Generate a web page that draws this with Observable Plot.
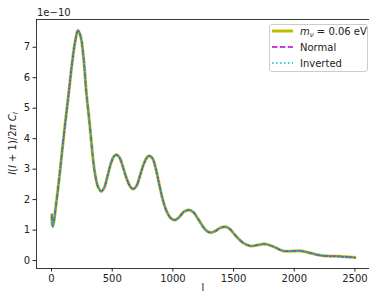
<!DOCTYPE html>
<html>
<head>
<meta charset="utf-8">
<script src="https://cdn.jsdelivr.net/npm/d3@7"></script>
<script src="https://cdn.jsdelivr.net/npm/@observablehq/plot@0.6"></script>
<style>
  html, body { margin: 0; padding: 0; background: #fff; overflow: hidden; }
  #chart svg { display: block; }
</style>
</head>
<body>
<div id="chart"></div>
<script>
// multipole l
const ell = [2, 5, 10, 20, 33, 50, 70, 90, 115, 143, 170, 195, 217, 240, 265, 286, 316, 340, 360, 385, 410, 435, 460, 490, 515, 536, 560, 590, 620, 650, 673, 700, 730, 760, 790, 810, 835, 860, 890, 920, 950, 980, 1014, 1050, 1090, 1132, 1170, 1210, 1250, 1280, 1310, 1350, 1390, 1434, 1470, 1510, 1550, 1590, 1640, 1690, 1750, 1800, 1850, 1890, 1915, 1970, 2038, 2090, 2150, 2200, 2244, 2300, 2360, 2420, 2470, 2500];
// l(l+1)/2pi C_l in units of 1e-10
const clMnu = [1.50, 1.25, 1.12, 1.30, 1.70, 2.25, 2.95, 3.70, 4.60, 5.55, 6.50, 7.20, 7.55, 7.35, 6.60, 5.55, 4.40, 3.40, 2.80, 2.40, 2.27, 2.40, 2.75, 3.20, 3.42, 3.47, 3.38, 3.05, 2.68, 2.42, 2.35, 2.45, 2.80, 3.17, 3.40, 3.43, 3.33, 3.00, 2.45, 1.95, 1.60, 1.40, 1.33, 1.42, 1.60, 1.66, 1.58, 1.35, 1.10, 0.97, 0.92, 0.97, 1.07, 1.11, 1.03, 0.85, 0.68, 0.55, 0.48, 0.50, 0.54, 0.50, 0.42, 0.34, 0.31, 0.31, 0.32, 0.29, 0.23, 0.18, 0.155, 0.145, 0.14, 0.125, 0.11, 0.10];
const clNormal = [1.50, 1.25, 1.12, 1.30, 1.70, 2.25, 2.95, 3.70, 4.60, 5.55, 6.50, 7.20, 7.55, 7.35, 6.60, 5.55, 4.40, 3.40, 2.80, 2.40, 2.27, 2.40, 2.75, 3.20, 3.42, 3.47, 3.38, 3.05, 2.68, 2.42, 2.35, 2.45, 2.80, 3.17, 3.40, 3.43, 3.33, 3.00, 2.45, 1.95, 1.60, 1.40, 1.33, 1.42, 1.60, 1.66, 1.58, 1.35, 1.10, 0.97, 0.92, 0.97, 1.07, 1.11, 1.03, 0.85, 0.68, 0.55, 0.48, 0.50, 0.54, 0.50, 0.42, 0.34, 0.31, 0.31, 0.32, 0.29, 0.23, 0.18, 0.155, 0.145, 0.14, 0.125, 0.11, 0.10];
const clInverted = [1.50, 1.25, 1.12, 1.30, 1.70, 2.25, 2.95, 3.70, 4.60, 5.55, 6.50, 7.20, 7.55, 7.35, 6.60, 5.55, 4.40, 3.40, 2.80, 2.40, 2.27, 2.40, 2.75, 3.20, 3.42, 3.47, 3.38, 3.05, 2.68, 2.42, 2.35, 2.45, 2.80, 3.17, 3.40, 3.43, 3.33, 3.00, 2.45, 1.95, 1.60, 1.40, 1.33, 1.42, 1.60, 1.66, 1.58, 1.35, 1.10, 0.97, 0.92, 0.97, 1.07, 1.11, 1.03, 0.85, 0.68, 0.55, 0.48, 0.50, 0.54, 0.50, 0.42, 0.34, 0.31, 0.31, 0.32, 0.29, 0.23, 0.18, 0.155, 0.145, 0.14, 0.125, 0.11, 0.10];

const xTicks = [0, 500, 1000, 1500, 2000, 2500];
const yTicks = [0, 1, 2, 3, 4, 5, 6, 7];
const xDomain = [-124, 2620];
const yDomain = [-0.26, 7.91];

const seriesLabels = ["Normal", "Inverted"];
const seriesColors = ["#bfbf00", "#bf00bf", "#00bfbf"];

const rowsMnu = ell.map((l, i) => ({l, v: clMnu[i]}));
const rowsNormal = ell.map((l, i) => ({l, v: clNormal[i]}));
const rowsInverted = ell.map((l, i) => ({l, v: clInverted[i]}));

const W = 369, H = 294;
const mL = 36, mR = 0, mT = 19, mB = 26;

const chart = Plot.plot({
  width: W,
  height: H,
  marginLeft: mL,
  marginRight: mR,
  marginTop: mT,
  marginBottom: mB,
  style: {fontFamily: "DejaVu Sans", fontSize: "10px", color: "#222", background: "#fff"},
  x: {domain: xDomain, ticks: xTicks, tickSize: 3.5, tickPadding: 3, label: null, tickFormat: d => String(d)},
  y: {domain: yDomain, ticks: yTicks, tickSize: 3.5, tickPadding: 3, label: null, tickFormat: d => String(d)},
  marks: [
    Plot.ruleX([xDomain[0]], {stroke: "#222", strokeWidth: 0.9}),
    Plot.ruleY(yDomain, {stroke: "#222", strokeWidth: 0.9}),
    Plot.line(rowsMnu, {x: "l", y: "v", stroke: seriesColors[0], strokeWidth: 3, curve: "catmull-rom"}),
    Plot.line(rowsNormal, {x: "l", y: "v", stroke: seriesColors[1], strokeWidth: 1.5, strokeDasharray: "5.5,2.4", curve: "catmull-rom"}),
    Plot.line(rowsInverted, {x: "l", y: "v", stroke: seriesColors[2], strokeWidth: 1.5, strokeDasharray: "1.5,2.5", curve: "catmull-rom"})
  ]
});

document.getElementById("chart").appendChild(chart);

const svg = d3.select(chart);
const font = "DejaVu Sans";

// offset text
svg.append("text")
  .attr("x", 37).attr("y", 15.5)
  .attr("text-anchor", "start")
  .attr("font-family", font).attr("font-size", 10).attr("fill", "#222")
  .text("1e\u221210");

// x label
svg.append("text")
  .attr("x", (mL + W - mR) / 2 + 0.5).attr("y", 290.5)
  .attr("text-anchor", "middle")
  .attr("font-family", font).attr("font-size", 10).attr("fill", "#222")
  .text("l");

// y label (mathtext style)
const yl = svg.append("text")
  .attr("transform", `translate(16,${(mT + H - mB) / 2}) rotate(-90)`)
  .attr("text-anchor", "middle")
  .attr("font-family", font).attr("font-size", 10).attr("fill", "#222");
yl.append("tspan").attr("font-style", "italic").text("l");
yl.append("tspan").text("(");
yl.append("tspan").attr("font-style", "italic").text("l");
yl.append("tspan").text(" + 1)/2");
yl.append("tspan").attr("font-style", "italic").text("\u03c0 C");
yl.append("tspan").attr("font-style", "italic").attr("font-size", 7).attr("dy", 2).text("l");

// legend
const lg = svg.append("g").attr("text-anchor", "start");
lg.append("rect")
  .attr("x", 269.5).attr("y", 24.5).attr("width", 98).attr("height", 47).attr("rx", 2.5).attr("ry", 2.5)
  .attr("fill", "#ffffff").attr("fill-opacity", 0.8).attr("stroke", "#cccccc").attr("stroke-width", 1);
const rowsY = [31, 47, 63];
const dashes = [null, "5.5,2.4", "1.5,2.5"];
const widths = [3, 1.5, 1.5];
rowsY.forEach((y, i) => {
  const ln = lg.append("line").attr("x1", 272).attr("x2", 293).attr("y1", y).attr("y2", y)
    .attr("stroke", seriesColors[i]).attr("stroke-width", widths[i]);
  if (dashes[i]) ln.attr("stroke-dasharray", dashes[i]);
});
const t0 = lg.append("text").attr("x", 300).attr("y", rowsY[0] + 3.5)
  .attr("text-anchor", "start")
  .attr("font-family", font).attr("font-size", 10).attr("fill", "#222");
t0.append("tspan").attr("font-style", "italic").text("m");
t0.append("tspan").attr("font-style", "italic").attr("font-size", 7).attr("dy", 2).text("\u03bd");
t0.append("tspan").attr("dy", -2).text(" = 0.06 eV");
seriesLabels.forEach((s, i) => {
  lg.append("text").attr("x", 300).attr("y", rowsY[i + 1] + 3.5)
    .attr("text-anchor", "start")
    .attr("font-family", font).attr("font-size", 10).attr("fill", "#222").text(s);
});
</script>
</body>
</html>
